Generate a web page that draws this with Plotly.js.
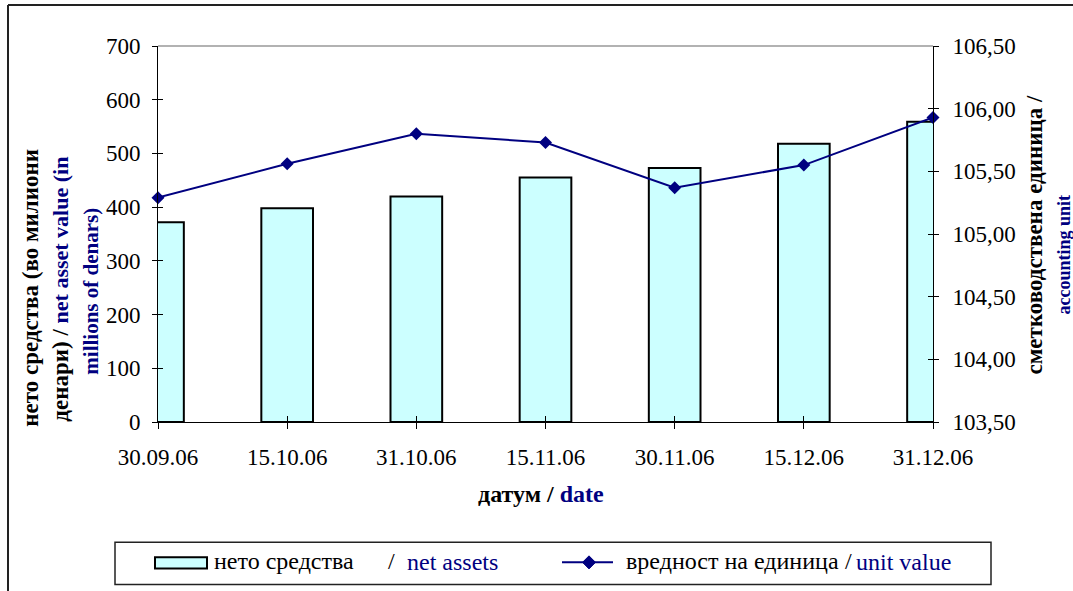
<!DOCTYPE html>
<html>
<head>
<meta charset="utf-8">
<script src="https://cdn.plot.ly/plotly-3.0.1.min.js"></script>
<style>
  html, body { margin: 0; padding: 0; background: #fff; }
  #chart { width: 1073px; height: 591px; }
</style>
</head>
<body>
<div id="chart"></div>
<script>
// датуми / dates
var dates = ['30.09.06', '15.10.06', '31.10.06', '15.11.06', '30.11.06', '15.12.06', '31.12.06'];
// нето средства (милиони денари)
var netAssets = [372, 398, 420, 455, 473, 518, 559];
// вредност на единица
var unitValue = [105.29, 105.56, 105.80, 105.73, 105.37, 105.55, 105.93];

var navy = '#000080';
var serif = 'Liberation Serif, Times New Roman, serif';

// plot area in pixels: x 158..933, y 46..422
function px(x) { return (x - 158) / 775; }
function py(y) { return (422 - y) / 375; }

function note(x, y, text, size, opts) {
    var a = {xref: 'paper', yref: 'paper', x: px(x), y: py(y), xanchor: 'center', yanchor: 'middle',
             showarrow: false, text: text, font: {family: serif, size: size, color: '#000'}};
    for (var k in opts) a[k] = opts[k];
    return a;
}

var data = [
    {
        x: dates,
        y: netAssets,
        type: 'bar',
        name: 'нето средства / net assets',
        width: 0.4,
        marker: {color: '#CCFFFF', line: {color: '#000', width: 2}},
        yaxis: 'y'
    },
    {
        x: dates,
        y: unitValue,
        type: 'scatter',
        mode: 'lines+markers',
        name: 'вредност на единица / unit value',
        line: {color: navy, width: 2},
        marker: {symbol: 'diamond', size: 10, color: navy},
        cliponaxis: false,
        yaxis: 'y2'
    },
    // empty traces so the inner-tick axes get drawn
    {x: [null], y: [null], type: 'scatter', mode: 'markers', xaxis: 'x2', yaxis: 'y3', showlegend: false, hoverinfo: 'skip'},
    {x: [null], y: [null], type: 'scatter', mode: 'markers', xaxis: 'x2', yaxis: 'y4', showlegend: false, hoverinfo: 'skip'}
];

var axisCommon = {
    showline: true, linecolor: '#000', linewidth: 1,
    ticks: 'outside', ticklen: 5, tickcolor: '#000',
    showgrid: false, zeroline: false,
    tickfont: {family: serif, size: 23, color: '#000'}
};
// inner halves of the crossing ticks
var innerTicks = {
    ticks: 'inside', ticklen: 5, tickcolor: '#000',
    showticklabels: false, showline: false, showgrid: false, zeroline: false,
    autorange: false
};

var layout = {
    width: 1073,
    height: 591,
    margin: {l: 158, r: 140, t: 46, b: 169},
    paper_bgcolor: '#fff',
    plot_bgcolor: '#fff',
    separators: ',.',
    font: {family: serif, color: '#000', size: 20},
    showlegend: false,
    xaxis: Object.assign({}, axisCommon, {
        type: 'category',
        range: [0, 6],
        autorange: false,
        ticklen: 6,
        ticklabelstandoff: 8
    }),
    yaxis: Object.assign({}, axisCommon, {
        range: [0, 700],
        dtick: 100,
        ticklabelstandoff: 7
    }),
    yaxis2: Object.assign({}, axisCommon, {
        overlaying: 'y',
        side: 'right',
        range: [103.5, 106.5],
        dtick: 0.5,
        tickformat: '.2f',
        ticklabelstandoff: 9
    }),
    xaxis2: Object.assign({}, innerTicks, {overlaying: 'x', side: 'bottom', anchor: 'y3', range: [0, 6], dtick: 1, ticklen: 6}),
    yaxis3: Object.assign({}, innerTicks, {overlaying: 'y', side: 'left', anchor: 'x2', range: [0, 700], dtick: 100}),
    yaxis4: Object.assign({}, innerTicks, {overlaying: 'y', side: 'right', anchor: 'x2', range: [103.5, 106.5], dtick: 0.5}),
    shapes: [
        // top line of plot area
        {type: 'line', xref: 'paper', yref: 'paper', x0: 0, x1: 1, y0: 1, y1: 1,
         line: {color: '#999', width: 1.5}},
        // chart border (top and left)
        {type: 'line', xref: 'paper', yref: 'paper', x0: px(8), x1: px(1073), y0: py(6), y1: py(6),
         line: {color: '#222', width: 2}},
        {type: 'line', xref: 'paper', yref: 'paper', x0: px(8), x1: px(8), y0: py(6), y1: py(591),
         line: {color: '#222', width: 2}},
        // legend box
        {type: 'rect', xref: 'paper', yref: 'paper', x0: px(115), x1: px(991), y0: py(542), y1: py(584),
         line: {color: '#222', width: 1.5}},
        // legend key: bars
        {type: 'rect', xref: 'paper', yref: 'paper', x0: px(155), x1: px(207), y0: py(557), y1: py(568),
         fillcolor: '#CCFFFF', line: {color: '#000', width: 2}},
        // legend key: line with diamond
        {type: 'line', xref: 'paper', yref: 'paper', x0: px(562), x1: px(613), y0: py(562), y1: py(562),
         line: {color: navy, width: 2}},
        {type: 'path', xref: 'paper', yref: 'paper', fillcolor: navy, line: {color: navy, width: 1},
         path: 'M' + px(589) + ',' + py(555.5) + ' L' + px(595.5) + ',' + py(562) +
               ' L' + px(589) + ',' + py(568.5) + ' L' + px(582.5) + ',' + py(562) + ' Z'}
    ],
    annotations: [
        // left axis title
        note(31, 288, '<b>нето средства (во милиони</b>', 23, {textangle: -90}),
        note(61, 290, '<b>денари) / <span style="color:#000080;font-size:22px">net asset value (in</span></b>', 23, {textangle: -90}),
        note(91, 292, '<b><span style="color:#000080">millions of denars)</span></b>', 21, {textangle: -90}),
        // right axis title
        note(1035, 236, '<b>сметководствена единица /</b>', 23, {textangle: -90}),
        note(1064, 255, '<b><span style="color:#000080">accounting unit</span></b>', 18, {textangle: -90}),
        // x axis title
        note(541, 494, '<b>датум / <span style="color:#000080">date</span></b>', 24),
        // legend texts
        note(212, 561, 'нето средства', 24, {xanchor: 'left'}),
        note(386, 561, '/', 24, {xanchor: 'left'}),
        note(405, 562, '<span style="color:#000080">net assets</span>', 24, {xanchor: 'left'}),
        note(624, 561, 'вредност на единица', 24, {xanchor: 'left'}),
        note(843, 561, '/', 24, {xanchor: 'left'}),
        note(854, 562, '<span style="color:#000080">unit value</span>', 24, {xanchor: 'left'})
    ]
};

var config = {staticPlot: true, responsive: false};
Plotly.newPlot('chart', data, layout, config);
</script>
</body>
</html>
